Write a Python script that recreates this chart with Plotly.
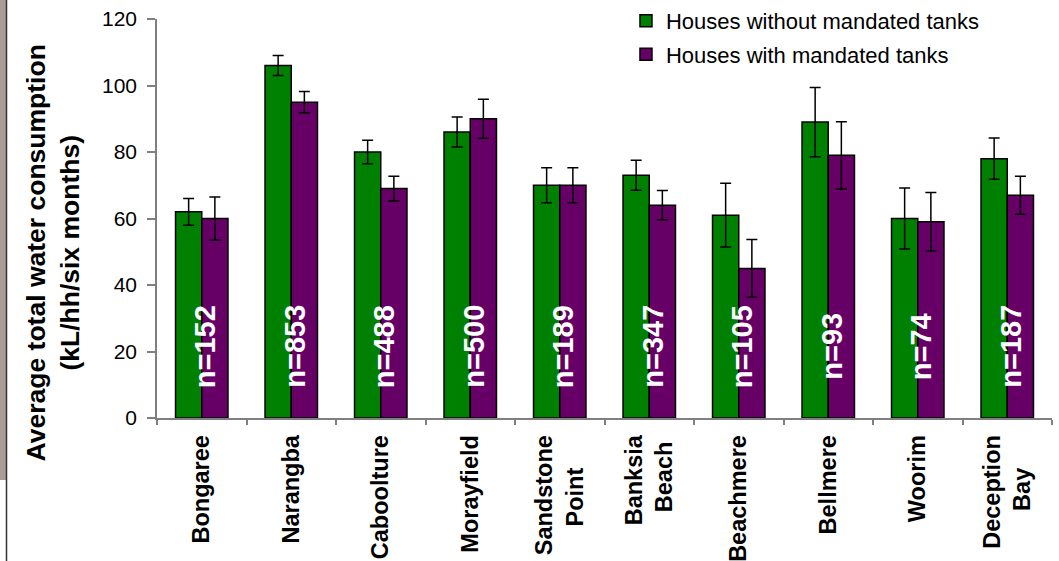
import plotly.graph_objects as go

categories = ["Bongaree", "Narangba", "Caboolture", "Morayfield", "Sandstone Point",
              "Banksia Beach", "Beachmere", "Bellmere", "Woorim", "Deception Bay"]
tick_labels = ["Bongaree", "Narangba", "Caboolture", "Morayfield",
               "Sandstone<br>Point\u00a0\u00a0\u00a0\u00a0\u00a0",
               "Banksia<br>Beach\u00a0", "Beachmere", "Bellmere", "Woorim",
               "Deception<br>Bay\u00a0\u00a0\u00a0\u00a0\u00a0"]
without_tanks = [62, 106, 80, 86, 70, 73, 61, 89, 60, 78]
with_tanks = [60, 95, 69, 90, 70, 64, 45, 79, 59, 67]
err_without = [4, 3, 3.5, 4.5, 5.3, 4.5, 9.6, 10.4, 9.2, 6.2]
err_with = [6.5, 3.2, 3.7, 5.9, 5.3, 4.4, 8.7, 10.1, 8.8, 5.7]
n_labels = ["n=152", "n=853", "n=488", "n=500", "n=189", "n=347", "n=105", "n=93", "n=74", "n=187"]
n_label_y = 21.5

FONT = "Liberation Sans, Arial, sans-serif"
GREEN = "#008000"
PURPLE = "#660066"

fig = go.Figure()
fig.add_trace(go.Bar(
    x=categories, y=without_tanks, name="Houses without mandated tanks",
    marker=dict(color=GREEN, line=dict(color="black", width=1.5)),
    error_y=dict(type="data", array=err_without, color="black", thickness=1.5, width=5.5),
    legendgroup="a",
))
fig.add_trace(go.Bar(
    x=categories, y=with_tanks, name="Houses with mandated tanks",
    marker=dict(color=PURPLE, line=dict(color="black", width=1.5)),
    error_y=dict(type="data", array=err_with, color="black", thickness=1.5, width=5.5),
    legendgroup="b",
))

for cat, lab in zip(categories, n_labels):
    fig.add_annotation(x=cat, y=n_label_y, xref="x", yref="y", text=lab, textangle=-90,
                       showarrow=False, xshift=3,
                       font=dict(family=FONT, size=29, color="white", weight="bold"))

# y-axis title
fig.add_annotation(x=-0.116, y=0.413, xref="paper", yref="paper",
                   xanchor="center", yanchor="middle",
                   text="Average total water consumption<br>(kL/hh/six months)",
                   textangle=-90, showarrow=False,
                   font=dict(family=FONT, size=26.5, color="black", weight="bold"))

# decorative left strip
fig.add_shape(type="rect", xref="paper", yref="paper",
              x0=-157/895, x1=-151/895, y0=(418-480)/399, y1=418/399,
              fillcolor="#a99d95", line=dict(width=0), layer="below")
fig.add_shape(type="line", xref="paper", yref="paper",
              x0=-150.5/895, x1=-150.5/895, y0=-143/399, y1=418/399,
              line=dict(color="#333333", width=1.5))

fig.update_layout(
    width=1059, height=561,
    margin=dict(l=157, r=7, t=19, b=143, autoexpand=False),
    paper_bgcolor="white", plot_bgcolor="white",
    barmode="group", bargap=0.414, bargroupgap=0,
    font=dict(family=FONT, color="black"),
    legend=dict(x=0.524, y=1.048, xanchor="left", yanchor="top",
                font=dict(family=FONT, size=22), tracegroupgap=2,
                bgcolor="rgba(0,0,0,0)"),
    showlegend=True,
)
fig.update_xaxes(
    automargin=False,
    showline=True, linecolor="#808080", linewidth=1.5,
    ticks="outside", tickson="boundaries", ticklen=5, tickcolor="#808080", tickwidth=1.5,
    ticklabelstandoff=6,
    tickangle=-90, tickmode="array", tickvals=categories, ticktext=tick_labels,
    tickfont=dict(family=FONT, size=23.5, color="black", weight="bold"),
    showgrid=False, zeroline=False,
)
fig.update_yaxes(
    automargin=False,
    range=[0, 120], dtick=20, showline=True, linecolor="#808080", linewidth=1.5,
    ticks="outside", ticklen=8, tickcolor="#808080", tickwidth=1.5, ticklabelstandoff=6,
    tickfont=dict(family=FONT, size=21, color="black"),
    showgrid=False, zeroline=False,
)

fig.write_html("out.html")
